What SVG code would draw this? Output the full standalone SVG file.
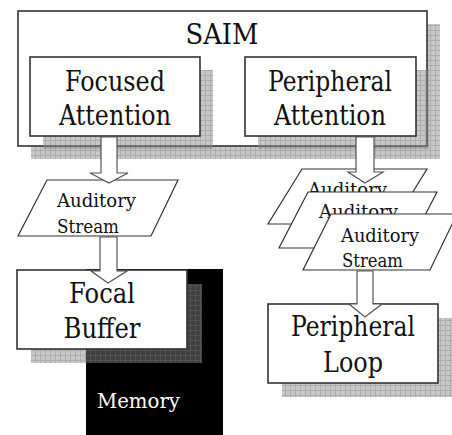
<svg xmlns="http://www.w3.org/2000/svg" width="452" height="435" viewBox="0 0 452 435">
<defs>
<pattern id="grid" x="0" y="0" width="5" height="5" patternUnits="userSpaceOnUse">
<rect x="0" y="0" width="5" height="1" fill="#808080" fill-opacity="0.65"/>
<rect x="0" y="1" width="1" height="4" fill="#808080" fill-opacity="0.65"/>
<rect x="1" y="1" width="4" height="4" fill="#888888" fill-opacity="0.47"/>
</pattern>
</defs>
<style>
.box{fill:#fff;stroke:#333;stroke-width:1.6}
.shadow{fill:url(#grid)}
.para{fill:#fff;stroke:#333;stroke-width:1.2}
.big{font-size:27px;fill:#111;text-anchor:middle}
.small{font-size:19px;fill:#111}
.mem{font-size:21px;fill:#fff}
.arrow{fill:#fff;stroke:#555;stroke-width:1.2;stroke-linejoin:miter}
</style>
<g font-family="DejaVu Serif, serif">
<g id="saim">
<rect class="shadow" x="31" y="24" width="409" height="135"/>
<rect class="box" x="18" y="11" width="409" height="135"/>
<text class="big" x="222" y="44" textLength="73" lengthAdjust="spacingAndGlyphs">SAIM</text>
</g>

<g id="focused-attention">
<rect class="shadow" x="43" y="70" width="170" height="79"/>
<rect class="box" x="30" y="57" width="170" height="79"/>
<text class="big" x="115" y="91" textLength="100" lengthAdjust="spacingAndGlyphs">Focused</text>
<text class="big" x="115" y="125" textLength="112" lengthAdjust="spacingAndGlyphs">Attention</text>
</g>

<g id="peripheral-attention">
<rect class="shadow" x="258" y="70" width="171" height="79"/>
<rect class="box" x="245" y="57" width="171" height="79"/>
<text class="big" x="330" y="91" textLength="124" lengthAdjust="spacingAndGlyphs">Peripheral</text>
<text class="big" x="330" y="125" textLength="112" lengthAdjust="spacingAndGlyphs">Attention</text>
</g>

<g id="stream-1">
<polygon class="para" points="302,169 427,169 393,224 268,224"/>
<text class="small" x="308" y="196" textLength="79" lengthAdjust="spacingAndGlyphs">Auditory</text>
</g>

<g id="stream-2">
<polygon class="para" points="308,192 437,192 408,248 279,248"/>
<text class="small" x="319" y="218" textLength="79" lengthAdjust="spacingAndGlyphs">Auditory</text>
</g>

<g id="stream-3">
<polygon class="para" points="331,214 457,214 430,270 303,270"/>
<text class="small" x="341" y="242" textLength="78" lengthAdjust="spacingAndGlyphs">Auditory</text>
<text class="small" x="342" y="267" textLength="61" lengthAdjust="spacingAndGlyphs">Stream</text>
</g>

<g id="stream-focused">
<polygon class="para" points="47,180 178,180 151,236 18,236"/>
<text class="small" x="57" y="207" textLength="79" lengthAdjust="spacingAndGlyphs">Auditory</text>
<text class="small" x="57" y="233" textLength="62" lengthAdjust="spacingAndGlyphs">Stream</text>
</g>

<g id="memory">
<rect x="86" y="269" width="137" height="166" fill="#000"/>
<text class="mem" x="97" y="408" textLength="83" lengthAdjust="spacingAndGlyphs">Memory</text>
</g>

<g id="focal-buffer">
<rect class="shadow" x="31" y="284" width="171" height="79"/>
<rect class="box" x="17" y="270" width="170" height="79"/>
<text class="big" x="102" y="303" textLength="66" lengthAdjust="spacingAndGlyphs">Focal</text>
<text class="big" x="102" y="338" textLength="77" lengthAdjust="spacingAndGlyphs">Buffer</text>
</g>

<g id="peripheral-loop">
<rect class="shadow" x="282" y="318" width="171" height="79"/>
<rect class="box" x="268" y="304" width="170" height="79"/>
<text class="big" x="353" y="336" textLength="124" lengthAdjust="spacingAndGlyphs">Peripheral</text>
<text class="big" x="353" y="372" textLength="60" lengthAdjust="spacingAndGlyphs">Loop</text>
</g>
</g>
<g id="connectors">
<polygon class="arrow" points="101,137 117,137 117,173 128,173 109,183 90,173 101,173"/>
<polygon class="arrow" points="356,137 374,137 374,172 383,172 365,183 348,172 356,172"/>
<polygon class="arrow" points="100,237 117,237 117,271 127,271 108,283 91,271 100,271"/>
<polygon class="arrow" points="357,271 373,271 373,304 382,304 365,317 349,304 357,304"/>
</g>
</svg>
